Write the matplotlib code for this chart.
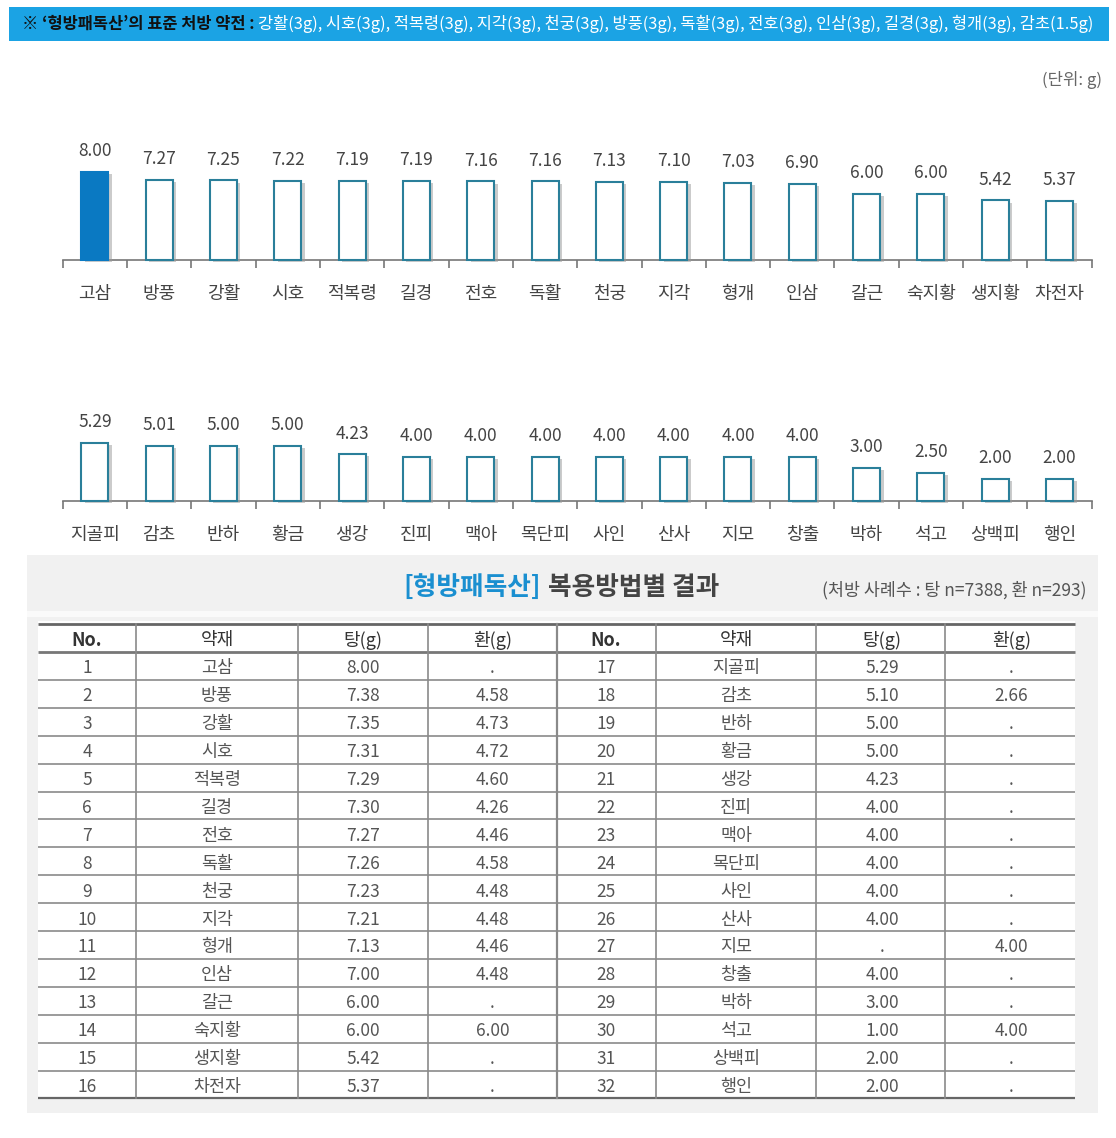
import matplotlib
matplotlib.use("Agg")
import matplotlib.pyplot as plt
import matplotlib.patheffects as pe
from matplotlib.patches import Rectangle
import numpy as np

plt.rcParams['font.family'] = ['Noto Sans CJK KR', 'DejaVu Sans']

# ---- data ----
header_bold = "※ ‘형방패독산’의 표준 처방 약전 : "
header_rest = ("강활(3g), 시호(3g), 적복령(3g), 지각(3g), 천궁(3g), 방풍(3g), "
               "독활(3g), 전호(3g), 인삼(3g), 길경(3g), 형개(3g), 감초(1.5g)")

top_names = ['고삼', '방풍', '강활', '시호', '적복령', '길경', '전호', '독활',
             '천궁', '지각', '형개', '인삼', '갈근', '숙지황', '생지황', '차전자']
top_vals = [8.00, 7.27, 7.25, 7.22, 7.19, 7.19, 7.16, 7.16,
            7.13, 7.10, 7.03, 6.90, 6.00, 6.00, 5.42, 5.37]

bottom_names = ['지골피', '감초', '반하', '황금', '생강', '진피', '맥아', '목단피',
                '사인', '산사', '지모', '창출', '박하', '석고', '상백피', '행인']
bottom_vals = [5.29, 5.01, 5.00, 5.00, 4.23, 4.00, 4.00, 4.00,
               4.00, 4.00, 4.00, 4.00, 3.00, 2.50, 2.00, 2.00]

tbl_cols = ['No.', '약재', '탕(g)', '환(g)']
tbl_herb = ['고삼', '방풍', '강활', '시호', '적복령', '길경', '전호', '독활',
            '천궁', '지각', '형개', '인삼', '갈근', '숙지황', '생지황', '차전자',
            '지골피', '감초', '반하', '황금', '생강', '진피', '맥아', '목단피',
            '사인', '산사', '지모', '창출', '박하', '석고', '상백피', '행인']
tbl_tang = ['8.00', '7.38', '7.35', '7.31', '7.29', '7.30', '7.27', '7.26',
            '7.23', '7.21', '7.13', '7.00', '6.00', '6.00', '5.42', '5.37',
            '5.29', '5.10', '5.00', '5.00', '4.23', '4.00', '4.00', '4.00',
            '4.00', '4.00', '.', '4.00', '3.00', '1.00', '2.00', '2.00']
tbl_hwan = ['.', '4.58', '4.73', '4.72', '4.60', '4.26', '4.46', '4.58',
            '4.48', '4.48', '4.46', '4.48', '.', '6.00', '.', '.',
            '.', '2.66', '.', '.', '.', '.', '.', '.',
            '.', '.', '4.00', '.', '.', '4.00', '.', '.']

W, H = 1116, 1138
fig = plt.figure(figsize=(W / 100, H / 100), dpi=100)
fig.patch.set_facecolor('white')

bg = fig.add_axes([0, 0, 1, 1])
bg.set_xlim(0, W)
bg.set_ylim(H, 0)
bg.axis('off')

# ---- header band ----
bg.add_patch(Rectangle((9, 7), 1100, 34, facecolor='#1ba3e4', edgecolor='none'))
fig.canvas.draw()
r = fig.canvas.get_renderer()
fs = 12
t1 = bg.text(22, 24, header_bold, fontsize=fs, fontweight='bold', color='#111111',
             va='center', ha='left')
t2 = bg.text(0, 24, header_rest, fontsize=fs, color='white', va='center', ha='left')
w = t1.get_window_extent(r).width + t2.get_window_extent(r).width
fs = fs * 1075 / w
t1.set_fontsize(fs)
t2.set_fontsize(fs)
t2.set_x(22 + t1.get_window_extent(r).width)

bg.text(1102, 80, '(단위: g)', fontsize=12, color='#666666', ha='right', va='center')

# ---- bar charts ----
px_per_unit = 10.9
ax_left, ax_right = 62.7, 1091.7


def bar_chart(baseline, names, vals):
    height_px = 10 * px_per_unit
    ax = fig.add_axes([ax_left / W, 1 - baseline / H,
                       (ax_right - ax_left) / W, height_px / H])
    ax.set_xlim(0, len(names))
    ax.set_ylim(0, 10)
    ax.patch.set_alpha(0)
    for s in ['top', 'left', 'right']:
        ax.spines[s].set_visible(False)
    ax.spines['bottom'].set_color('#777777')
    ax.spines['bottom'].set_linewidth(1.2)
    ax.set_yticks([])
    ax.set_xticks(np.arange(len(names) + 1))
    ax.tick_params(axis='x', direction='out', length=6, width=1.2,
                   color='#777777', labelbottom=False)
    x = np.arange(len(names)) + 0.5
    faces = ['white'] * len(names)
    edges = ['#2a7f9a'] * len(names)
    if names[0] == '고삼':
        faces[0] = '#0a79c2'
        edges[0] = '#0a79c2'
    bars = ax.bar(x, vals, width=0.42, color=faces, edgecolor=edges,
                  linewidth=1.5, clip_on=False, zorder=3)
    for b in bars:
        b.set_path_effects([pe.SimplePatchShadow(offset=(2.5, -1.5),
                                                 shadow_rgbFace='#999999', alpha=0.5),
                            pe.Normal()])
    for xi, v, n in zip(x, vals, names):
        ax.annotate(f'{v:.2f}', (xi, v), xytext=(0, 15), textcoords='offset points',
                    ha='center', va='center', fontsize=12.5, color='#444444')
        ax.annotate(n, (xi, 0), xytext=(0, -24.5), textcoords='offset points',
                    ha='center', va='center', fontsize=13, color='#444444')
    return ax


bar_chart(259.5, top_names, top_vals)
bar_chart(500.5, bottom_names, bottom_vals)

# ---- table section ----
bg.add_patch(Rectangle((27, 555), 1071, 558, facecolor='#f1f1f1', edgecolor='none'))
bg.add_patch(Rectangle((27, 611), 1071, 6, facecolor='#fafafa', edgecolor='none'))
bg.add_patch(Rectangle((38, 621), 1037, 478, facecolor='white', edgecolor='none'))

bg.text(541, 587, '[형방패독산]', fontsize=18.5, fontweight='bold', color='#1a8fd0',
        ha='right', va='center')
bg.text(548, 587, '복용방법별 결과', fontsize=18.5, fontweight='bold', color='#444444',
        ha='left', va='center')
bg.text(1086, 590, '(처방 사례수 : 탕 n=7388, 환 n=293)', fontsize=12.5,
        color='#555555', ha='right', va='center')

col_edges = [38, 136, 298, 428, 557]
half = 519
top_y, head_y, row_h = 624, 652, 27.9
n_rows = 16
bottom_y = head_y + n_rows * row_h

# horizontal lines
bg.plot([38, 1075], [top_y, top_y], color='#666666', lw=2, solid_capstyle='butt')
bg.plot([38, 1075], [head_y, head_y], color='#777777', lw=2, solid_capstyle='butt')
for i in range(1, n_rows):
    y = head_y + i * row_h
    bg.plot([38, 1075], [y, y], color='#8a8a8a', lw=1.2, solid_capstyle='butt')
bg.plot([38, 1075], [bottom_y, bottom_y], color='#666666', lw=1.6, solid_capstyle='butt')

# vertical lines
for xv in [136, 298, 428, 557, 656, 816, 945]:
    bg.plot([xv, xv], [top_y, bottom_y], color='#8a8a8a',
            lw=1.6 if xv == 557 else 1.2)

for side in range(2):
    off = side * half
    centers = [(col_edges[k] + col_edges[k + 1]) / 2 + off for k in range(4)]
    for k, c in enumerate(tbl_cols):
        bg.text(centers[k], (top_y + head_y) / 2 + 2, c, fontsize=13,
                fontweight='bold' if k == 0 else 'normal', color='#333333',
                ha='center', va='center')
    for i in range(n_rows):
        idx = side * n_rows + i
        y = head_y + (i + 0.5) * row_h + 2.5
        cells = [str(idx + 1), tbl_herb[idx], tbl_tang[idx], tbl_hwan[idx]]
        for k, c in enumerate(cells):
            bg.text(centers[k], y, c, fontsize=12.5, color='#555555',
                    ha='center', va='center')

fig.savefig('out.png', dpi=100, facecolor='white')
